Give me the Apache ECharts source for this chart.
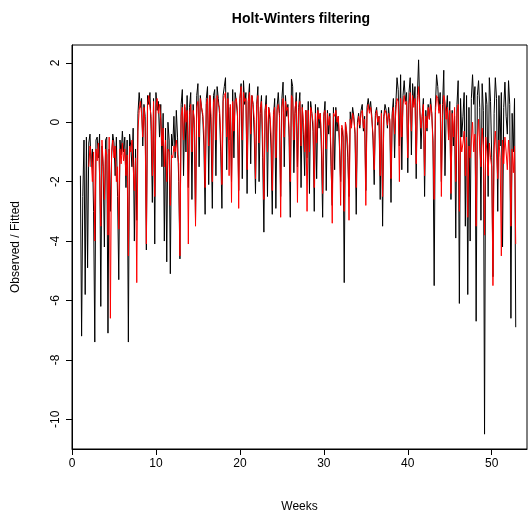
<!DOCTYPE html>
<html>
<head>
<meta charset="utf-8">
<script src="https://cdn.jsdelivr.net/npm/echarts@6/dist/echarts.min.js"></script>
<style>
html,body{margin:0;padding:0;background:#fff;}
#chart{width:531px;height:518px;}
</style>
</head>
<body>
<div id="chart"></div>
<script>
// Daily observations, 7 per week, starting at week 1
const observed = [
 -1.8,-7.2,-2.5,-0.6,-5.8,-0.5,-4.9,
 -0.7,-0.4,-1.5,-0.9,-3.0,-7.4,-0.6,
 -0.5,-1.2,-0.4,-6.2,-0.8,-1.5,-4.2,
 -0.6,-0.5,-7.1,-0.9,-3.0,-1.2,-0.4,
 -0.7,-1.8,-0.5,-2.5,-5.3,-0.6,-1.1,
 -0.3,-1.0,-0.5,-2.2,-0.6,-7.4,-0.4,
 -0.8,-1.5,-0.2,-4.0,-0.9,-3.3,0.3,
 1.0,0.5,0.8,-0.8,0.6,0.2,-4.3,
 0.9,0.6,1.0,-0.3,-2.7,0.8,-4.1,
 1.0,0.4,0.7,-0.5,0.6,-1.5,0.3,
 -4.0,-0.2,-4.7,0.0,-0.6,-5.1,-0.4,
 -0.8,0.2,-1.2,0.4,-0.5,-2.0,-4.6,
 0.6,1.1,-1.8,0.5,-1.0,0.9,-2.2,
 0.5,1.0,-2.6,0.6,-0.2,-3.3,0.9,
 1.3,-1.5,0.9,0.5,0.2,-0.8,-3.1,
 0.8,1.2,-2.1,0.9,-0.4,-2.9,0.9,
 1.1,-1.8,1.2,0.8,0.3,-1.0,-2.9,
 0.9,1.2,1.5,-1.6,1.0,-0.6,0.5,
 -2.0,1.1,-1.2,1.0,0.7,0.2,-2.3,
 0.8,1.3,-1.9,1.4,0.6,1.0,-2.4,
 0.7,1.3,-1.4,0.9,0.6,-0.5,-2.4,
 0.6,1.2,-2.0,0.3,0.9,-1.2,-3.7,
 0.4,0.9,-2.5,0.5,0.1,-0.9,-3.1,
 0.2,0.8,-2.9,0.5,1.0,0.3,-2.5,
 0.8,1.35,-1.5,0.9,0.2,0.6,-0.5,
 -3.2,1.45,1.2,-1.7,0.3,1.0,-1.5,
 0.5,1.0,-2.2,0.6,-0.4,-1.8,0.4,
 -1.2,0.7,-2.4,0.7,0.3,-0.3,-3.0,
 0.6,-1.9,0.5,-0.2,0.3,-1.0,-3.2,
 0.2,0.7,-2.3,0.4,-0.4,0.3,-1.5,
 -2.8,0.5,-1.6,0.5,-0.3,0.2,-0.8,
 -2.0,-0.2,-0.5,-5.4,0.0,-0.4,-1.2,
 -2.5,0.35,-0.1,0.5,0.2,-0.4,-3.1,
 0.0,0.3,-0.2,0.4,0.6,-0.3,0.2,
 -2.3,0.5,0.8,0.4,0.7,0.2,-0.6,
 -2.1,0.3,0.5,-0.1,0.2,-2.6,0.4,
 -3.5,0.2,0.6,0.4,-0.2,0.5,0.0,
 -2.7,0.3,0.8,-1.2,0.6,1.5,1.1,
 -0.8,1.6,-1.6,0.9,1.4,0.7,1.0,
 -1.7,1.0,1.5,-1.1,1.3,0.6,1.2,
 -1.9,0.9,2.1,0.5,-0.9,0.2,0.8,
 -2.5,0.4,-0.3,0.6,0.1,0.8,0.3,
 -0.6,-5.5,0.5,1.6,1.2,0.4,1.0,
 -2.0,0.6,1.75,-1.8,0.3,0.9,-0.5,
 0.7,-2.6,0.4,-0.8,0.2,-3.9,0.6,
 1.4,-6.1,0.8,-0.5,0.2,1.0,-3.5,
 0.9,-5.8,0.5,-4.0,0.8,1.6,0.6,
 1.2,-6.7,0.9,1.4,0.5,-3.3,1.3,
 0.4,-10.5,1.0,0.6,-2.5,1.5,0.7,
 -1.2,-5.2,0.3,1.5,0.8,-3.0,0.9,
 -0.8,1.0,-4.2,0.5,1.35,0.2,-0.4,
 1.4,0.6,-6.6,0.3,-1.0,0.8,-6.9
];
// Holt-Winters fitted values, starting at week 2
const fitted = [
 -1.5,-0.8,-1.2,-2.0,-1.0,-4.0,-0.9,
 -1.3,-0.7,-1.8,-3.5,-0.6,-1.4,-2.6,
 -0.9,-1.1,-3.8,-0.5,-6.6,-1.0,-0.6,
 -1.2,-0.8,-2.0,-1.5,-3.6,-0.9,-1.4,
 -0.7,-1.3,-0.9,-1.8,-1.1,-4.5,-0.8,
 -1.0,-0.6,-1.5,-2.3,-1.2,-5.4,-0.3,
 0.4,0.7,0.3,-0.5,0.5,-0.2,-4.1,
 0.6,0.9,0.5,0.2,-1.8,0.7,-2.5,
 0.5,0.8,0.3,0.6,0.1,-0.8,-0.2,
 -1.5,-0.6,-2.0,-0.9,-1.0,-2.8,-1.1,
 -1.2,-0.8,-1.0,-0.6,-1.1,-1.4,-4.5,
 0.2,0.5,-0.6,0.6,0.0,0.4,-4.1,
 0.3,0.6,-1.0,0.4,0.1,-3.5,0.5,
 0.7,-0.5,0.8,0.5,0.3,-0.3,-2.2,
 0.6,0.8,-0.8,0.9,0.2,-2.0,0.7,
 0.8,-0.6,0.9,0.6,0.5,-0.4,-2.1,
 0.7,0.9,1.0,-0.5,0.8,-1.8,0.6,
 -2.7,0.7,-0.3,0.7,0.8,0.4,-2.9,
 0.8,1.2,-0.6,1.0,0.7,0.8,-1.6,
 0.7,1.0,-0.4,0.9,0.6,0.1,-1.9,
 0.6,0.9,-0.7,0.5,0.7,-0.5,-2.6,
 0.4,0.6,-1.0,0.5,0.3,-0.4,-2.3,
 0.3,0.5,-1.2,0.4,0.6,0.2,-3.2,
 0.5,0.8,-0.5,0.7,0.4,0.5,-0.2,
 -2.0,0.9,0.8,-0.6,0.5,0.7,-2.7,
 0.4,0.7,-0.8,0.5,0.0,-1.0,0.4,
 -3.0,0.4,-1.0,0.5,0.3,0.0,-2.2,
 0.3,-0.7,0.4,0.1,0.3,-0.5,-2.4,
 0.3,0.4,-0.9,0.3,-0.1,0.2,-1.0,
 -3.4,0.3,0.2,0.4,0.0,0.2,-0.5,
 -2.8,-0.1,-0.3,-3.0,0.0,-0.3,-0.8,
 -3.3,0.1,-0.2,0.3,0.1,-0.3,-2.2,
 -0.2,0.2,-0.1,0.3,0.4,-0.2,0.1,
 -2.8,0.3,0.6,0.3,0.5,0.1,-0.4,
 -1.6,0.2,0.4,0.0,0.2,-1.8,0.3,
 -2.5,0.1,0.4,0.3,-0.1,0.3,0.1,
 -1.9,0.2,0.5,-0.4,0.4,0.8,0.7,
 -2.0,0.8,-0.5,0.6,0.9,0.6,0.7,
 -1.2,0.6,1.0,-0.3,0.9,0.5,0.8,
 -1.4,0.6,1.2,0.4,-0.2,0.2,0.6,
 -1.8,0.2,-0.2,0.5,0.1,0.6,0.3,
 -0.8,-2.6,0.3,0.9,0.8,0.3,0.6,
 -2.5,0.2,0.9,0.7,0.1,0.5,-0.6,
 0.4,-2.4,0.3,-0.5,0.5,-2.0,0.3,
 0.6,-3.0,-0.5,-1.0,-0.7,-0.3,-1.8,
 -0.5,-3.2,-0.8,-1.2,-0.6,0.0,-1.0,
 -0.4,-3.5,-0.6,0.1,-0.9,-1.5,-0.2,
 -0.8,-3.8,-0.5,-1.0,-1.8,-0.7,-1.2,
 -1.5,-5.5,-0.9,-0.3,-1.1,-1.9,-0.6,
 -1.2,-4.5,-0.6,-1.4,-0.5,-1.0,-1.6,
 -0.6,-1.2,-3.5,-0.9,-1.7,-0.8,-4.1
];
const startWeek = 1;
const fittedStartWeek = 2;
const perWeek = 7;
const xTicks = [0, 10, 20, 30, 40, 50];
const yTicks = [-10, -8, -6, -4, -2, 0, 2];

const obsData = observed.map((v, i) => [startWeek + i / perWeek, v]);
const fitData = fitted.map((v, i) => [fittedStartWeek + i / perWeek, v]);

const font = 'Liberation Sans, Arial, sans-serif';
const chart = echarts.init(document.getElementById('chart'), null, {renderer: 'canvas'});
chart.setOption({
  animation: false,
  backgroundColor: '#fff',
  title: {
    text: 'Holt-Winters filtering',
    left: 296, top: 7, textAlign: 'center',
    textStyle: {fontFamily: font, fontSize: 14, fontWeight: 'bold', color: '#000'}
  },
  grid: {left: 72, right: 4, top: 45, bottom: 68, show: true, borderColor: '#000', borderWidth: 1, containLabel: false},
  xAxis: {
    type: 'value', min: 0, max: 54.2,
    name: 'Weeks', nameLocation: 'middle', nameGap: 52,
    nameTextStyle: {fontFamily: font, fontSize: 12, color: '#000'},
    axisLine: {show: true, onZero: false, lineStyle: {color: '#000', width: 1}},
    axisTick: {show: true, inside: false, length: 6, customValues: xTicks, lineStyle: {color: '#000'}},
    axisLabel: {customValues: xTicks, fontFamily: font, fontSize: 12, color: '#000', margin: 9},
    splitLine: {show: false}
  },
  yAxis: {
    type: 'value', min: -11.0, max: 2.6,
    name: 'Observed / Fitted', nameLocation: 'middle', nameGap: 50, nameRotate: 90,
    nameTextStyle: {fontFamily: font, fontSize: 12, color: '#000'},
    axisLine: {show: true, onZero: false, lineStyle: {color: '#000', width: 1}},
    axisTick: {show: true, inside: false, length: 6, customValues: yTicks, lineStyle: {color: '#000'}},
    axisLabel: {customValues: yTicks, rotate: 90, fontFamily: font, fontSize: 12, color: '#000', margin: 10},
    splitLine: {show: false}
  },
  series: [
    {type: 'line', data: obsData, showSymbol: false, symbol: 'none', lineStyle: {color: '#000', width: 1}, z: 2},
    {type: 'line', data: fitData, showSymbol: false, symbol: 'none', lineStyle: {color: '#ff0000', width: 1}, z: 3}
  ]
});
</script>
</body>
</html>
